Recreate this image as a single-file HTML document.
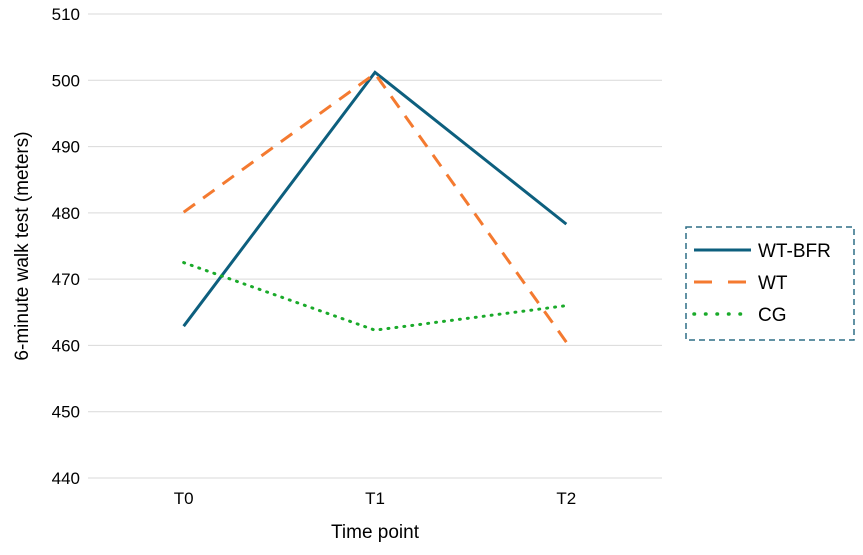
<!DOCTYPE html>
<html><head><meta charset="utf-8"><style>
body{margin:0;background:#fff;}
svg{display:block;font-family:"Liberation Sans",sans-serif;}
</style></head><body>
<svg id="chart" width="863" height="555"></svg>
<script>
const categories=["T0","T1","T2"];
const wtBfr=[462.9,501.2,478.3];
const wt=[480.1,501.0,460.5];
const cg=[472.5,462.3,466.0];
const yTicks=[440,450,460,470,480,490,500,510];
const seriesNames=["WT-BFR","WT","CG"];

const NS="http://www.w3.org/2000/svg";
const svg=document.getElementById("chart");
const x0=88,x1=662,yTop=14,yBot=478,yMin=440,yMax=510;
const yS=v=>yBot-(v-yMin)/(yMax-yMin)*(yBot-yTop);
const step=(x1-x0)/categories.length;
const xS=i=>x0+step*(i+0.5);
function mk(tag,attrs,parent){const e=document.createElementNS(NS,tag);for(const k in attrs)e.setAttribute(k,attrs[k]);(parent||svg).appendChild(e);return e;}

yTicks.forEach(t=>{
  const l=mk("line",{x1:x0,x2:x1,y1:yS(t),y2:yS(t),stroke:"#d9d9d9","stroke-width":1});
  
  
  const tx=mk("text",{x:80,y:yS(t)+6,"text-anchor":"end","font-size":17,fill:"#000"});
  tx.textContent=t;
  
  
});
categories.forEach((c,i)=>{
  const tx=mk("text",{x:xS(i),y:504,"text-anchor":"middle","font-size":17,fill:"#000"});
  tx.textContent=c;
  
  
});
const xt=mk("text",{x:375,y:538,"text-anchor":"middle","font-size":19,fill:"#000"});
xt.textContent="Time point";


const yt=mk("text",{x:0,y:0,"text-anchor":"middle","font-size":19,fill:"#000",transform:"translate(28,246) rotate(-90)"});
yt.textContent="6-minute walk test (meters)";



const styles=[
 {data:wtBfr,color:"#0d5f7e",dash:"",w:3,cap:"butt"},
 {data:wt,color:"#f47a30",dash:"14 10",w:3,cap:"butt"},
 {data:cg,color:"#1aaa2a",dash:"1 7",w:3,cap:"round"}
];
styles.forEach((s,k)=>{
  const p=mk("polyline",{points:s.data.map((v,i)=>xS(i)+","+yS(v)).join(" "),fill:"none",stroke:s.color,"stroke-width":s.w,"stroke-dasharray":s.dash,"stroke-linecap":s.cap,"stroke-linejoin":"miter"});
  
  
});

const lg=mk("g",{});


mk("rect",{x:686,y:227,width:168,height:113,fill:"none",stroke:"#2e6f86","stroke-width":1.5,"stroke-dasharray":"6 4"},lg);
styles.forEach((s,k)=>{
  const y=250+k*32;
  const e=mk("g",{},lg);
  
  
  mk("line",{x1:694,x2:751,y1:y,y2:y,stroke:s.color,"stroke-width":k==2?3.5:3,"stroke-dasharray":k==1?"18 16":(k==2?"0.5 11":""),"stroke-linecap":k==2?"round":"butt"},e);
  const t=mk("text",{x:758,y:y+7,"font-size":19,fill:"#000"},e);
  t.textContent=seriesNames[k];
});
</script>
</body></html>
